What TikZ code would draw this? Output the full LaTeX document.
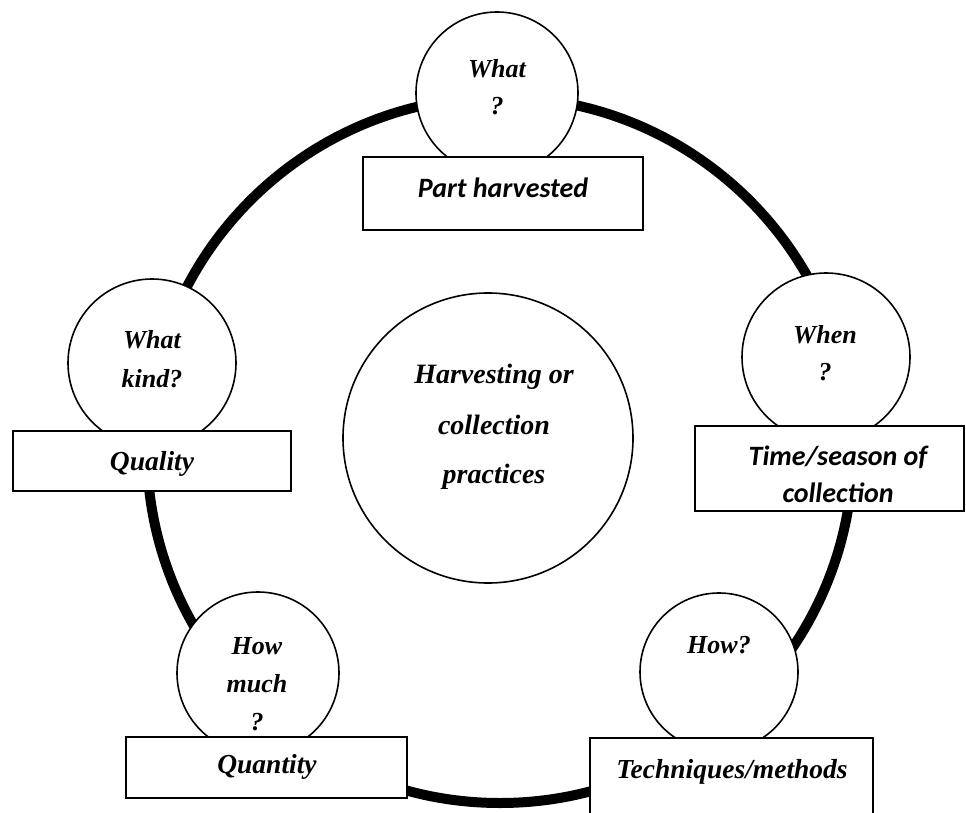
\documentclass[tikz,border=0pt]{standalone}
\usepackage{fontspec}
\setmainfont{Liberation Serif}
\newfontfamily\calfont{Carlito}
\begin{document}
\begin{tikzpicture}[x=1pt,y=-1pt,
  ringstyle/.style={circle, draw, line width=10pt, minimum size=706pt, inner sep=0pt},
  qcircle/.style={circle, draw, line width=1.6pt, fill=white, inner sep=0pt},
  ansbox/.style={rectangle, draw, line width=1.6pt, fill=white, inner sep=0pt},
  qtext/.style={anchor=base, inner sep=0pt, font=\fontsize{26}{30}\selectfont\bfseries\itshape},
  ctext/.style={anchor=base, inner sep=0pt, font=\fontsize{28}{32}\selectfont\bfseries\itshape},
  btext/.style={anchor=base, inner sep=0pt, font=\fontsize{27.5}{32}\selectfont\bfseries\itshape},
  stext/.style={anchor=base, inner sep=0pt, font=\calfont\fontsize{28}{32}\selectfont\bfseries\itshape}]
\useasboundingbox (0,0) rectangle (966,813);
\fill[white] (0,0) rectangle (966,813);

% outer ring
\node[ringstyle] (ring) at (500,450) {};

% central circle
\node[circle, draw, line width=1.6pt, minimum size=290pt, inner sep=0pt] (center) at (488,438) {};
\node[ctext] (c1) at (494,383) {Harvesting or};
\node[ctext] (c2) at (494,434) {collection};
\node[ctext] (c3) at (494,483) {practices};

% What?
\node[qcircle, minimum size=162pt] (qwhat) at (497,93) {};
\node[ansbox, minimum width=280pt, minimum height=73pt] (bpart) at (503,193.5) {};
\node[qtext] (qwhat1) at (497,78) {What};
\node[qtext] (qwhat2) at (497,115) {?};
\node[stext] (bpartt) at (503,198) {Part harvested};

% When?
\node[qcircle, minimum size=168pt] (qwhen) at (826,357) {};
\node[ansbox, minimum width=269pt, minimum height=85pt] (btime) at (829.5,468.5) {};
\node[qtext] (qwhen1) at (825,343) {When};
\node[qtext] (qwhen2) at (825,380) {?};
\node[stext] (btime1) at (838,465) {Time/season of};
\node[stext] (btime2) at (838,502) {collection};

% What kind?
\node[qcircle, minimum size=168pt] (qkind) at (152,363) {};
\node[ansbox, minimum width=278pt, minimum height=60pt] (bqual) at (152,461) {};
\node[qtext] (qkind1) at (152,348) {What};
\node[qtext] (qkind2) at (152,387) {kind?};
\node[btext] (bqualt) at (152,470) {Quality};

% How much?
\node[qcircle, minimum size=162pt] (qmuch) at (258,673) {};
\node[ansbox, minimum width=281pt, minimum height=61pt] (bquan) at (266.5,767.5) {};
\node[qtext] (qmuch1) at (257,654) {How};
\node[qtext] (qmuch2) at (257,692) {much};
\node[qtext] (qmuch3) at (257,730) {?};
\node[btext] (bquant) at (267,773) {Quantity};

% How?
\node[qcircle, minimum size=158pt] (qhow) at (719,672) {};
\node[ansbox, minimum width=283pt, minimum height=92pt] (btech) at (731.5,784) {};
\node[qtext] (qhow1) at (719,653) {How?};
\node[btext] (btecht) at (732,778) {Techniques/methods};
\end{tikzpicture}
\end{document}
